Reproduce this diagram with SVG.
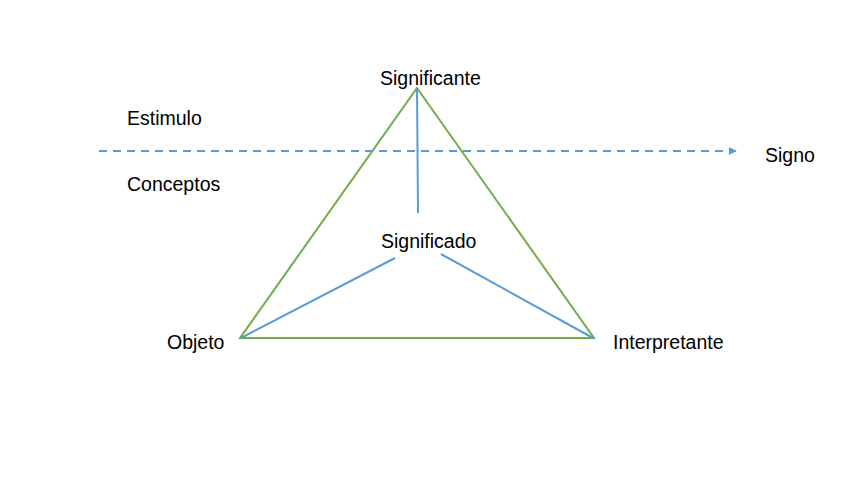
<svg xmlns="http://www.w3.org/2000/svg" width="848" height="477" viewBox="0 0 848 477">
  <style>
    .lbl { font-family: "Liberation Sans", Arial, sans-serif; font-size: 19.5px; fill: #000; }
    .green { stroke: #70AD47; stroke-width: 2; fill: none; stroke-linejoin: miter; }
    .blue { stroke: #5B9BD5; stroke-width: 2; fill: none; }
    .dash { stroke: #5B9BD5; stroke-width: 2; fill: none; stroke-dasharray: 8 6; }
  </style>
  <defs>
    <marker id="arrow" viewBox="0 0 10 10" refX="9" refY="5" markerWidth="4" markerHeight="4" orient="auto" markerUnits="strokeWidth">
      <path d="M0,0 L10,5 L0,10 z" fill="#5B9BD5"/>
    </marker>
  </defs>
  <rect width="848" height="477" fill="#fff"/>
  <g id="connectors">
    <polygon class="green" points="417,88 594,338 240,338"/>
    <line class="blue" x1="417" y1="88" x2="418" y2="213"/>
    <line class="blue" x1="395" y1="258" x2="241" y2="338"/>
    <line class="blue" x1="441" y1="254" x2="593" y2="338"/>
    <line class="dash" x1="99" y1="151" x2="736" y2="151" marker-end="url(#arrow)"/>
  </g>
  <g id="significante"><text class="lbl" x="380" y="85">Significante</text></g>
  <g id="significado"><text class="lbl" x="381" y="248">Significado</text></g>
  <g id="estimulo"><text class="lbl" x="127" y="125">Estimulo</text></g>
  <g id="conceptos"><text class="lbl" x="127" y="191">Conceptos</text></g>
  <g id="signo"><text class="lbl" x="765" y="162">Signo</text></g>
  <g id="objeto"><text class="lbl" x="167" y="349">Objeto</text></g>
  <g id="interpretante"><text class="lbl" x="613" y="349">Interpretante</text></g>
</svg>
